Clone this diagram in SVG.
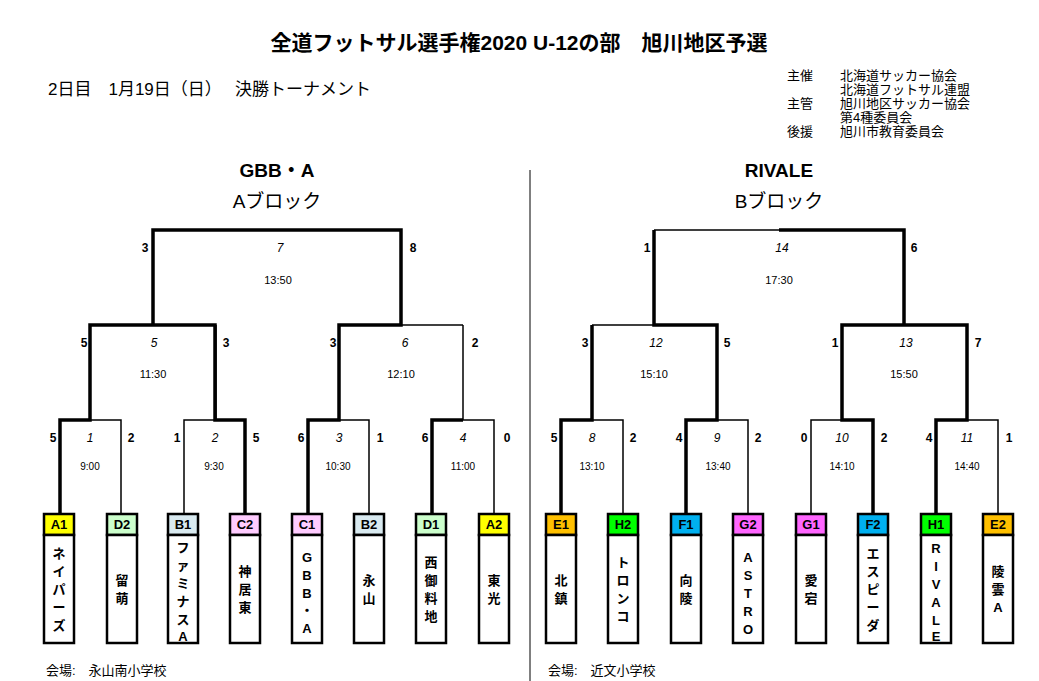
<svg xmlns="http://www.w3.org/2000/svg" width="1039" height="681" viewBox="0 0 1039 681">
<style>
text{font-family:"Liberation Sans","Noto Sans CJK JP",sans-serif;fill:#000}
.t{font-size:21px;font-weight:bold}
.h{font-size:17px}
.s{font-size:13px}
.blk{font-size:19px}
.sc{font-size:12px;font-weight:bold}
.no{font-size:12px;font-style:italic;fill:#333}
.tm{font-size:10px;fill:#333}
.tm2{font-size:11px;fill:#333}
.thin{fill:none;stroke:#000;stroke-width:1.5}
.thick{fill:none;stroke:#000;stroke-width:3.5}
.lb{stroke:#000;stroke-width:2.5}
.nb{fill:#fff;stroke:#000;stroke-width:2.5}
.lt{font-size:13px;font-weight:bold;text-anchor:middle}
.nm{font-size:13px;font-weight:bold;text-anchor:middle}
</style>
<rect width="1039" height="681" fill="#fff"/>
<text class="t" x="519" y="50" text-anchor="middle">全道フットサル選手権2020 U-12の部　旭川地区予選</text>
<text class="h" x="48" y="95">2日目　1月19日（日）　 決勝トーナメント</text>
<g class="s">
<text x="787" y="80">主催</text><text x="840" y="80">北海道サッカー協会</text>
<text x="840" y="94">北海道フットサル連盟</text>
<text x="787" y="108">主管</text><text x="840" y="108">旭川地区サッカー協会</text>
<text x="840" y="122">第4種委員会</text>
<text x="787" y="136">後援</text><text x="840" y="136">旭川市教育委員会</text>
</g>
<text class="t" x="277" y="177" text-anchor="middle" style="font-size:19px">GBB・A</text>
<text class="blk" x="277" y="208" text-anchor="middle">Aブロック</text>
<text class="t" x="779" y="177" text-anchor="middle" style="font-size:19px">RIVALE</text>
<text class="blk" x="779" y="208" text-anchor="middle">Bブロック</text>
<line x1="530" y1="170" x2="530" y2="681" stroke="#000" stroke-width="1"/>

<g id="connectors">
<path class="thin" d="M90,420H121V513 M184,513V420H215 M369,513V420H339 M494,513V420H463 M153,325H90 M339,325H401 M463,325V420 M216,325V420 M277,230H153"/>
<path class="thick" d="M60,513V420H90V325H153V230H277 M245,513V420H215V325H153 M308,513V420H339V325H401V230H277 M432,513V420H463"/>
<path class="thin" d="M401,325H463"/>
<path class="thin" d="M592,420H623V513 M748,513V420H717 M811,513V420H842 M998,513V420H967 M592,325H654 M842,325H904 M654,230H779"/>
<path class="thick" d="M561,513V420H592V325 M686,513V420H717V325H654V230 M873,513V420H842V325H904 M936,513V420H967V325H904V230H779"/>
</g>

<g class="sc" text-anchor="middle">
<text x="145" y="252">3</text><text x="413" y="252">8</text>
<text x="84" y="347">5</text><text x="226" y="347">3</text><text x="333" y="347">3</text><text x="475" y="347">2</text>
<text x="53" y="442">5</text><text x="131" y="442">2</text><text x="177" y="442">1</text><text x="256" y="442">5</text>
<text x="301" y="442">6</text><text x="380" y="442">1</text><text x="425" y="442">6</text><text x="507" y="442">0</text>
<text x="647" y="252">1</text><text x="914" y="252">6</text>
<text x="585" y="347">3</text><text x="727" y="347">5</text><text x="835" y="347">1</text><text x="978" y="347">7</text>
<text x="554" y="442">5</text><text x="633" y="442">2</text><text x="679" y="442">4</text><text x="758" y="442">2</text>
<text x="804" y="442">0</text><text x="884" y="442">2</text><text x="929" y="442">4</text><text x="1009" y="442">1</text>
</g>
<g class="no" text-anchor="middle">
<text x="280" y="252">7</text><text x="154" y="347">5</text><text x="405" y="347">6</text>
<text x="90" y="442">1</text><text x="215" y="442">2</text><text x="339" y="442">3</text><text x="463" y="442">4</text>
<text x="782" y="252">14</text><text x="656" y="347">12</text><text x="906" y="347">13</text>
<text x="592" y="442">8</text><text x="717" y="442">9</text><text x="842" y="442">10</text><text x="967" y="442">11</text>
</g>
<g class="tm2" text-anchor="middle">
<text x="278" y="284">13:50</text><text x="153" y="378">11:30</text><text x="401" y="378">12:10</text>
<text x="779" y="284">17:30</text><text x="654" y="378">15:10</text><text x="904" y="378">15:50</text>
</g>
<g class="tm" text-anchor="middle">
<text x="90" y="470">9:00</text><text x="214" y="470">9:30</text><text x="338" y="470">10:30</text><text x="463" y="470">11:00</text>
<text x="592" y="470">13:10</text><text x="718" y="470">13:40</text><text x="842" y="470">14:10</text><text x="967" y="470">14:40</text>
</g>

<g id="n-a1"><rect class="lb" x="44" y="514" width="30" height="21" fill="#ffff00"/><rect class="nb" x="44" y="535" width="30" height="108"/><text class="lt" x="59" y="529">A1</text><text class="nm" x="59"><tspan x="59" y="558">ネ</tspan><tspan x="59" y="576">イ</tspan><tspan x="59" y="594">パ</tspan><tspan x="59" y="612">ー</tspan><tspan x="59" y="630">ズ</tspan></text></g>
<g id="n-d2"><rect class="lb" x="107" y="514" width="30" height="21" fill="#ccffcc"/><rect class="nb" x="107" y="535" width="30" height="108"/><text class="lt" x="122" y="529">D2</text><text class="nm"><tspan x="122" y="585">留</tspan><tspan x="122" y="603">萌</tspan></text></g>
<g id="n-b1"><rect class="lb" x="168" y="514" width="30" height="21" fill="#d9eaf0"/><rect class="nb" x="168" y="535" width="30" height="108"/><text class="lt" x="183" y="529">B1</text><text class="nm"><tspan x="183" y="552">フ</tspan><tspan x="183" y="570">ァ</tspan><tspan x="183" y="588">ミ</tspan><tspan x="183" y="606">ナ</tspan><tspan x="183" y="624">ス</tspan><tspan x="183" y="641">A</tspan></text></g>
<g id="n-c2"><rect class="lb" x="230" y="514" width="30" height="21" fill="#ffccff"/><rect class="nb" x="230" y="535" width="30" height="108"/><text class="lt" x="245" y="529">C2</text><text class="nm"><tspan x="245" y="576">神</tspan><tspan x="245" y="594">居</tspan><tspan x="245" y="612">東</tspan></text></g>
<g id="n-c1"><rect class="lb" x="292" y="514" width="30" height="21" fill="#ffccff"/><rect class="nb" x="292" y="535" width="30" height="108"/><text class="lt" x="307" y="529">C1</text><text class="nm"><tspan x="307" y="562">G</tspan><tspan x="307" y="580">B</tspan><tspan x="307" y="598">B</tspan><tspan x="307" y="615">・</tspan><tspan x="307" y="633">A</tspan></text></g>
<g id="n-b2"><rect class="lb" x="354" y="514" width="30" height="21" fill="#d9eaf0"/><rect class="nb" x="354" y="535" width="30" height="108"/><text class="lt" x="369" y="529">B2</text><text class="nm"><tspan x="369" y="585">永</tspan><tspan x="369" y="603">山</tspan></text></g>
<g id="n-d1"><rect class="lb" x="416" y="514" width="30" height="21" fill="#ccffcc"/><rect class="nb" x="416" y="535" width="30" height="108"/><text class="lt" x="431" y="529">D1</text><text class="nm"><tspan x="431" y="567">西</tspan><tspan x="431" y="585">御</tspan><tspan x="431" y="603">料</tspan><tspan x="431" y="621">地</tspan></text></g>
<g id="n-a2"><rect class="lb" x="479" y="514" width="30" height="21" fill="#ffff00"/><rect class="nb" x="479" y="535" width="30" height="108"/><text class="lt" x="494" y="529">A2</text><text class="nm"><tspan x="494" y="585">東</tspan><tspan x="494" y="603">光</tspan></text></g>

<g id="n-e1"><rect class="lb" x="546" y="514" width="30" height="21" fill="#ffc000"/><rect class="nb" x="546" y="535" width="30" height="108"/><text class="lt" x="561" y="529">E1</text><text class="nm"><tspan x="561" y="585">北</tspan><tspan x="561" y="603">鎮</tspan></text></g>
<g id="n-h2"><rect class="lb" x="608" y="514" width="30" height="21" fill="#00ff00"/><rect class="nb" x="608" y="535" width="30" height="108"/><text class="lt" x="623" y="529">H2</text><text class="nm"><tspan x="623" y="567">ト</tspan><tspan x="623" y="585">ロ</tspan><tspan x="623" y="603">ン</tspan><tspan x="623" y="621">コ</tspan></text></g>
<g id="n-f1"><rect class="lb" x="671" y="514" width="30" height="21" fill="#00b0f0"/><rect class="nb" x="671" y="535" width="30" height="108"/><text class="lt" x="686" y="529">F1</text><text class="nm"><tspan x="686" y="585">向</tspan><tspan x="686" y="603">陵</tspan></text></g>
<g id="n-g2"><rect class="lb" x="733" y="514" width="30" height="21" fill="#ff66ff"/><rect class="nb" x="733" y="535" width="30" height="108"/><text class="lt" x="748" y="529">G2</text><text class="nm"><tspan x="748" y="562">A</tspan><tspan x="748" y="580">S</tspan><tspan x="748" y="598">T</tspan><tspan x="748" y="616">R</tspan><tspan x="748" y="634">O</tspan></text></g>
<g id="n-g1"><rect class="lb" x="796" y="514" width="30" height="21" fill="#ff66ff"/><rect class="nb" x="796" y="535" width="30" height="108"/><text class="lt" x="811" y="529">G1</text><text class="nm"><tspan x="811" y="585">愛</tspan><tspan x="811" y="603">宕</tspan></text></g>
<g id="n-f2"><rect class="lb" x="858" y="514" width="30" height="21" fill="#00b0f0"/><rect class="nb" x="858" y="535" width="30" height="108"/><text class="lt" x="873" y="529">F2</text><text class="nm"><tspan x="873" y="558">エ</tspan><tspan x="873" y="576">ス</tspan><tspan x="873" y="594">ピ</tspan><tspan x="873" y="612">ー</tspan><tspan x="873" y="630">ダ</tspan></text></g>
<g id="n-h1"><rect class="lb" x="921" y="514" width="30" height="21" fill="#00ff00"/><rect class="nb" x="921" y="535" width="30" height="108"/><text class="lt" x="936" y="529">H1</text><text class="nm"><tspan x="936" y="553">R</tspan><tspan x="936" y="571">I</tspan><tspan x="936" y="589">V</tspan><tspan x="936" y="607">A</tspan><tspan x="936" y="625">L</tspan><tspan x="936" y="641">E</tspan></text></g>
<g id="n-e2"><rect class="lb" x="983" y="514" width="30" height="21" fill="#ffc000"/><rect class="nb" x="983" y="535" width="30" height="108"/><text class="lt" x="998" y="529">E2</text><text class="nm"><tspan x="998" y="576">陵</tspan><tspan x="998" y="594">雲</tspan><tspan x="998" y="612">A</tspan></text></g>

<text class="s" x="46" y="675">会場:　永山南小学校</text>
<text class="s" x="548" y="675">会場:　近文小学校</text>
</svg>
